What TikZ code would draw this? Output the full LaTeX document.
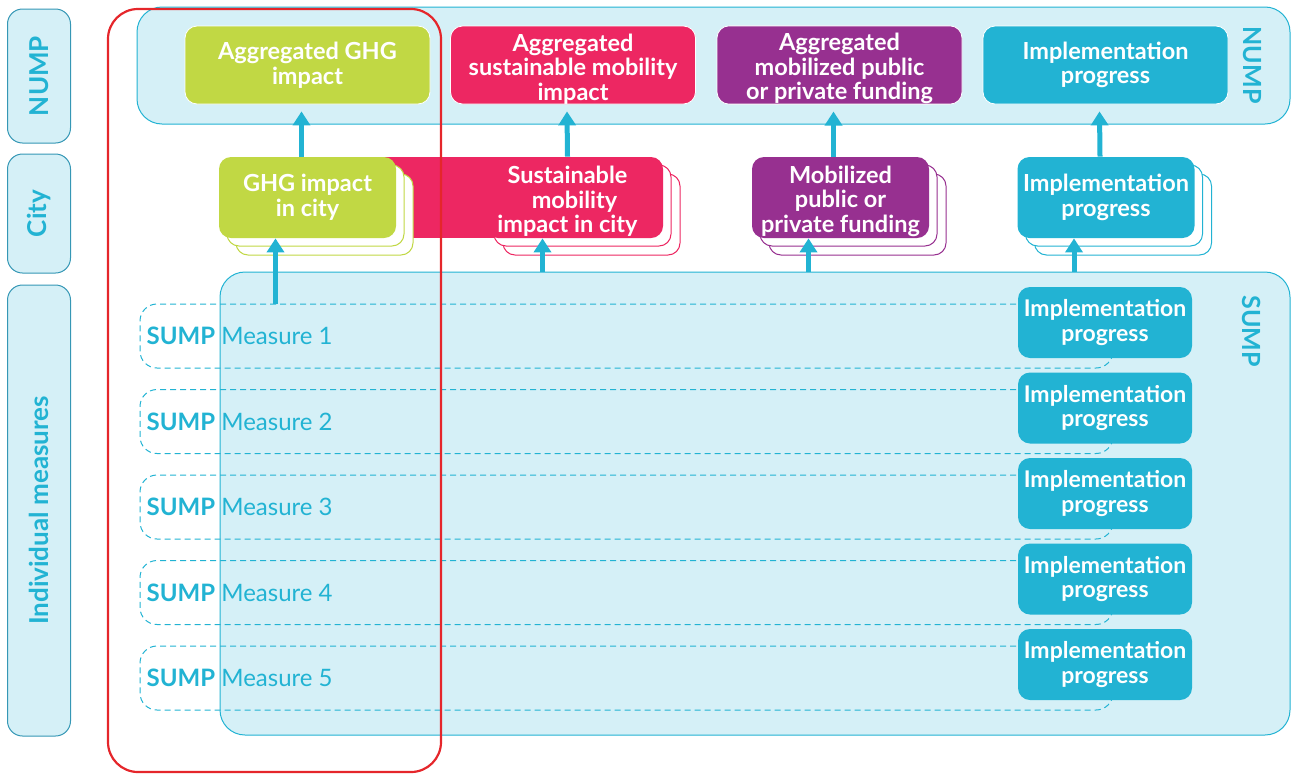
\documentclass[tikz,border=0pt]{standalone}
\usepackage{fontspec}
\setmainfont{Lato}
\usetikzlibrary{arrows.meta,calc,positioning}

\definecolor{ghggreen}{RGB}{193,216,68}
\definecolor{mobpink}{RGB}{237,39,98}
\definecolor{fundpurple}{RGB}{151,48,144}
\definecolor{progcyan}{RGB}{34,179,211}
\definecolor{paleblue}{RGB}{213,240,247}
\definecolor{tealline}{RGB}{53,151,181}
\definecolor{focusred}{RGB}{229,38,43}

\newcommand{\lowstrut}{\rule{0pt}{25pt}}

\tikzset{
    card/.style={fill=#1, draw=white, line width=0.8pt, rounded corners=12pt,
        text=white, font=\bfseries\fontsize{23.5}{24.5}\selectfont, align=center,
        inner sep=0pt, minimum width=245pt, minimum height=78pt},
    citycard/.style={card=#1, draw=none, minimum width=177pt, minimum height=81pt},
    ghost/.style={fill=white, draw=#1, line width=1pt, rounded corners=12pt,
        inner sep=0pt, minimum width=177pt, minimum height=81pt},
    implcard/.style={card=progcyan, draw=none, minimum width=174pt, minimum height=71pt,
        font=\bfseries\fontsize{23}{24.5}\selectfont},
    band/.style={fill=paleblue, draw=progcyan, line width=1pt, rounded corners=25pt, inner sep=0pt},
    leveltag/.style={fill=paleblue, draw=tealline, line width=1pt, rounded corners=15pt,
        inner sep=0pt, minimum height=63pt, rotate=90, text=progcyan,
        font=\bfseries\fontsize{26}{28}\selectfont},
    sidetext/.style={text=progcyan, font=\bfseries\fontsize{25}{28}\selectfont, inner sep=0pt},
    measurerow/.style={draw=progcyan, line width=1pt, dash pattern=on 6pt off 4pt,
        rounded corners=17pt, inner sep=0pt, minimum width=973pt, minimum height=64pt},
    measuretext/.style={text=progcyan, font=\fontsize{24}{26}\selectfont, inner sep=0pt},
    uparrow/.style={draw=progcyan, line width=5pt, -{Triangle[length=14pt,width=17pt]}}
}

\begin{document}
\begin{tikzpicture}[x=1pt, y=-1pt]
    \useasboundingbox (0,0) rectangle (1292,774);

    % NUMP level
    \node[band, minimum width=1153pt, minimum height=117pt] (numpband) at (713.5,65.5) {};
    \node[sidetext, rotate=-90] (numptag) at (1252,65) {NUMP};
    \node[card=ghggreen] (gnump) at (307.5,65) {Aggregated GHG\\impact};
    \node[card=mobpink] (pnump) at (573,65) {\lowstrut Aggregated\\sustainable mobility\\impact};
    \node[card=fundpurple] (fnump) at (839.5,65) {\lowstrut Aggregated\\mobilized public\\or private funding};
    \node[card=progcyan] (inump) at (1105.5,65) {Implementation\\progress};

    % City level
    \fill[mobpink] (385,157) rectangle (560,238);
    \node[ghost=mobpink] (pback2) at (591.5,214.5) {};
    \node[ghost=mobpink] (pback1) at (582.5,205.5) {};
    \node[citycard=mobpink] (pcity) at (574.5,197.5) {\lowstrut Sustainable\hspace*{14pt}\\mobility\hspace*{14pt}\\impact in city\hspace*{14pt}};
    \node[ghost=ghggreen] (gback2) at (324.5,214.5) {};
    \node[ghost=ghggreen] (gback1) at (315.5,205.5) {};
    \node[citycard=ghggreen] (gcity) at (307.5,197.5) {GHG impact\\in city};
    \node[ghost=fundpurple] (fback2) at (857.5,214.5) {};
    \node[ghost=fundpurple] (fback1) at (848.5,205.5) {};
    \node[citycard=fundpurple] (fcity) at (840.5,197.5) {\lowstrut Mobilized\\public or\\private funding};
    \node[ghost=progcyan] (iback2) at (1123,214.5) {};
    \node[ghost=progcyan] (iback1) at (1114,205.5) {};
    \node[citycard=progcyan] (icity) at (1106,197.5) {Implementation\\progress};

    % SUMP level
    \node[band, minimum width=1070pt, minimum height=463pt] (sumpband) at (755,503.5) {};
    \node[sidetext, rotate=-90] (sumptag) at (1252,331) {SUMP};
    \foreach \i in {1,...,5} {
        \pgfmathsetmacro\yy{336+(\i-1)*85.5}
        \node[measurerow] (row\i) at (626.5,\yy) {};
        \node[measuretext, anchor=west] (lab\i) at ([xshift=7pt]row\i.west) {\textbf{SUMP} Measure \i};
        \node[implcard] (impl\i) at (1105,\yy-13.5) {Implementation\\progress};
    }

    % arrows
    \draw[uparrow] ([xshift=-6pt]gcity.north) -- ([xshift=-6pt,yshift=-7pt]gnump.south);
    \draw[uparrow] ([xshift=-7pt]pcity.north) -- ([xshift=-6pt,yshift=-7pt]pnump.south);
    \draw[uparrow] ([xshift=-7pt]fcity.north) -- ([xshift=-6pt,yshift=-7pt]fnump.south);
    \draw[uparrow] ([xshift=-6pt]icity.north) -- ([xshift=-6pt,yshift=-7pt]inump.south);
    \draw[uparrow] ([xshift=-32pt]gcity.south |- row1.north) -- ([xshift=-32pt]gcity.south);
    \draw[uparrow] ([xshift=-32pt]pcity.south |- sumpband.north) -- ([xshift=-32pt]pcity.south);
    \draw[uparrow] ([xshift=-32pt]fcity.south |- sumpband.north) -- ([xshift=-32pt]fcity.south);
    \draw[uparrow] ([xshift=-32pt]icity.south |- sumpband.north) -- ([xshift=-32pt]icity.south);

    % level tags
    \node[leveltag, minimum width=134pt] (numplevel) at (39,76) {NUMP};
    \node[leveltag, minimum width=119pt] (citylevel) at (39,213.5) {City};
    \node[leveltag, minimum width=451pt] (measurelevel) at (39,510.5) {Individual measures};

    % focus frame
    \draw[focusred, line width=2.2pt, rounded corners=30pt] (108,9) rectangle (441,772);
\end{tikzpicture}
\end{document}
